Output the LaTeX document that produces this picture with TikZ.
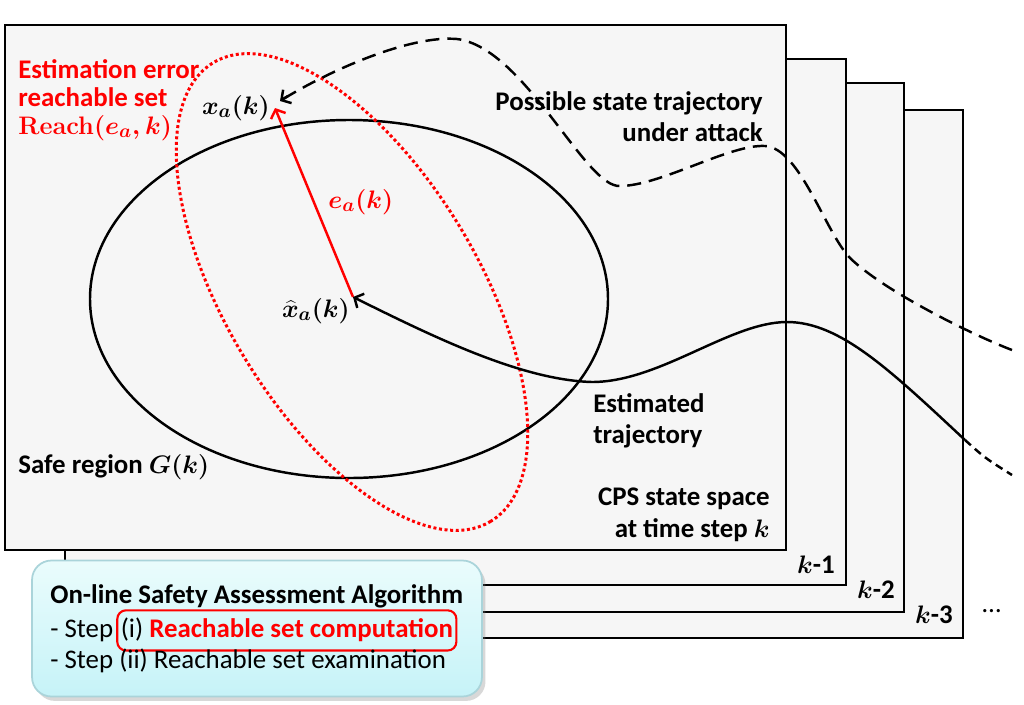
\documentclass[tikz,border=0pt]{standalone}
\usepackage{fontspec}
\setmainfont{Carlito}
\usetikzlibrary{arrows.meta,shadows}
\definecolor{framefill}{RGB}{246,246,246}
\definecolor{boxtop}{RGB}{234,252,252}
\definecolor{boxbot}{RGB}{198,243,248}
\definecolor{boxline}{RGB}{170,212,218}
\definecolor{myred}{RGB}{255,0,0}
\newcommand\txtfont{\fontsize{15.3}{18}\selectfont\bfseries}
\newcommand\plainfont{\fontsize{15.3}{18}\selectfont}
\newcommand\mthfont{\fontsize{15.5}{18}\selectfont\boldmath}
\begin{document}
\begin{tikzpicture}[x=0.02cm,y=-0.02cm,
  frame/.style={draw=black, line width=1.6pt, fill=framefill},
  lbl/.style={font=\txtfont, inner sep=0pt},
  mlbl/.style={font=\mthfont, inner sep=0pt},
  traj/.style={line width=1.4pt},
  tipa/.style={-{Straight Barb[length=4pt,width=9pt]}},
  algobox/.style={draw=boxline, line width=1pt, rounded corners=11pt,
    top color=boxtop, bottom color=boxbot,
    drop shadow={shadow xshift=2pt, shadow yshift=-2.5pt, opacity=0.3},
    minimum width=9cm, minimum height=2.72cm, inner sep=0pt},
  redbox/.style={draw=myred, line width=1.2pt, rounded corners=5pt,
    inner xsep=2pt, inner ysep=4.2pt, text height=11pt, text depth=3.5pt}
]
\useasboundingbox (0,0) rectangle (1024,704);
\fill[white] (0,0) rectangle (1024,704);

% stacked frames
\draw[frame] (65,110) rectangle (963,638);
\draw[frame] (65,83) rectangle (904,612);
\draw[frame] (65,59) rectangle (846,585);
\draw[frame] (5,25) rectangle (786,550);

% frame labels
\node[lbl, anchor=base east] (km1) at (835,573) {{\mthfont$k$}-1};
\node[lbl, anchor=base east] (km2) at (895,598) {{\mthfont$k$}-2};
\node[lbl, anchor=base east] (km3) at (953,623) {{\mthfont$k$}-3};
\node[font=\plainfont, inner sep=0pt, anchor=base west] (dots) at (982,612) {…};

% safe region
\draw[traj] (349,299) ellipse [x radius=259, y radius=179];

% reachable set (dotted red ellipse)
\draw[myred, line width=1.7pt, dash pattern=on 1.7pt off 1.5pt,
  rotate around={-58.8:(352,292)}] (352,292) ellipse [x radius=268, y radius=126];

% key points
\coordinate (xhatpt) at (353,297);
\coordinate (xapt) at (275,108);
\coordinate (dashend) at (280,101);
\coordinate (dashstart) at (1012,350);
\coordinate (tipbase) at (288,96);

% error vector
\draw[myred, line width=1.4pt, tipa] (xhatpt) -- (xapt);

% possible state trajectory under attack
\draw[traj, dash pattern=on 8pt off 4.5pt] (dashstart)
  .. controls (975,336) and (885,292) .. (850,258)
  .. controls (825,232) and (800,148) .. (765,146)
  .. controls (730,144) and (660,186) .. (620,186)
  .. controls (585,188) and (525,48) .. (457,39)
  .. controls (410,35) and (330,70) .. (dashend);
\draw[traj, tipa] (tipbase) -- (dashend);

% estimated trajectory
\coordinate (estend) at (1012,475);
\draw[traj, tipa] (965,440)
  .. controls (890,370) and (840,322) .. (787,322)
  .. controls (730,322) and (660,382) .. (592,382)
  .. controls (520,380) and (430,335) .. (xhatpt);
\draw[traj, dash pattern=on 4.5pt off 3pt] (965,440) .. controls (985,458) .. (estend);

% labels in main frame
\node[lbl, anchor=base west, text=myred] (est1) at (18,78) {Estimation error};
\node[lbl, anchor=base west, text=myred] (est2) at (18,106) {reachable set};
\node[mlbl, anchor=base west, text=myred] (est3) at (18,134) {$\mathbf{Reach}(e_a,k)$};
\node[lbl, anchor=base east] (pst1) at (763,110) {Possible state trajectory};
\node[lbl, anchor=base east] (pst2) at (763,141) {under attack};
\node[mlbl, anchor=base east] (xa) at (270,114) {$x_a(k)$};
\node[mlbl, anchor=base west, text=myred] (ea) at (328,208) {$e_a(k)$};
\node[mlbl, anchor=base east] (xhat) at (350,317) {$\widehat{x}_a(k)$};
\node[lbl, anchor=base west] (safe) at (18,473) {Safe region {\mthfont$G(k)$}};
\node[lbl, anchor=base west] (et1) at (593,412) {Estimated};
\node[lbl, anchor=base west] (et2) at (593,443) {trajectory};
\node[lbl, anchor=base east] (cps1) at (770,505) {CPS state space};
\node[lbl, anchor=base east] (cps2) at (770,537) {at time step {\mthfont$k$}};

% algorithm box
\node[algobox] (algo) at (257,628.5) {};
\node[lbl, anchor=base west] (algot) at (50,603) {On-line Safety Assessment Algorithm};
\node[font=\plainfont, inner sep=0pt, anchor=base west] (step1) at (50,637) {- Step};
\node[redbox, font=\plainfont, anchor=base west] (rbox) at ([xshift=1.5pt]step1.base east)
  {(i) \textcolor{myred}{\bfseries Reachable set computation}};
\node[font=\plainfont, inner sep=0pt, anchor=base west] (step2) at (50,668) {- Step (ii) Reachable set examination};
\end{tikzpicture}
\end{document}
